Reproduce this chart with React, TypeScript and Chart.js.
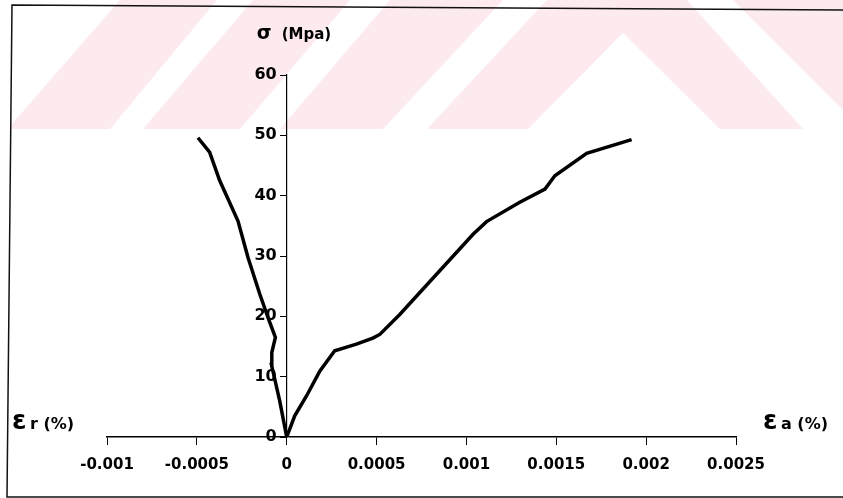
import React, { useEffect, useRef } from "react";
import { Chart, registerables } from "chart.js";

Chart.register(...registerables);

// Axial strain branch (εa, %) vs stress σ (MPa)
const axialStrain = [0, 0.0000445, 0.00011, 0.000184, 0.000267, 0.000388, 0.000479, 0.000518, 0.000629, 0.001037, 0.001112, 0.001297, 0.001437, 0.001492, 0.001669, 0.001919];
const axialStress = [0, 3.5, 6.8, 10.9, 14.3, 15.4, 16.4, 17.0, 20.3, 33.6, 35.7, 38.9, 41.1, 43.3, 47.0, 49.3];

// Radial strain branch (εr, %) vs stress σ (MPa)
const radialStrain = [0, -0.000039, -0.000085, -0.000083, -0.000063, -0.000104, -0.00015, -0.000215, -0.000271, -0.000373, -0.000429, -0.000494];
const radialStress = [0, 6.0, 12.0, 14.0, 16.5, 19.8, 23.7, 29.7, 35.8, 42.5, 47.2, 49.6];

const xTickValues = [-0.001, -0.0005, 0, 0.0005, 0.001, 0.0015, 0.002, 0.0025];
const xTickLabels = ["-0.001", "-0.0005", "0", "0.0005", "0.001", "0.0015", "0.002", "0.0025"];
const yTickValues = [0, 10, 20, 30, 40, 50, 60];
const yTickLabels = ["0", "10", "20", "30", "40", "50", "60"];

const yTitle = ["σ", "(Mpa)"];
const xLeftTitle = ["ε", "r (%)"];
const xRightTitle = ["ε", "a (%)"];

const PINK = "rgb(253,234,238)";
const FONT = '"DejaVu Sans", "Liberation Sans", Arial, sans-serif';
const Y_LABEL_GAP = 10;

// decorative scanned-page watermark (pink stripes) in the page header
const WATERMARK: number[][][] = [
  [[120, 0], [217, 0], [110, 129], [12, 129], [12, 124]],
  [[253, 0], [350, 0], [240, 129], [143, 129]],
  [[390, 0], [503, 0], [383, 129], [280, 129]],
  [[547, 0], [687, 0], [803, 129], [720, 129], [623, 33], [528, 129], [427, 129]],
  [[733, 0], [843, 0], [843, 110]],
];

const decor = {
  id: "decor",
  beforeDraw(chart: any) {
    const ctx = chart.ctx as CanvasRenderingContext2D;
    ctx.save();
    ctx.fillStyle = "#fff";
    ctx.fillRect(0, 0, chart.width, chart.height);
    ctx.fillStyle = PINK;
    for (const poly of WATERMARK) {
      ctx.beginPath();
      poly.forEach(([x, y], i) => (i ? ctx.lineTo(x, y) : ctx.moveTo(x, y)));
      ctx.closePath();
      ctx.fill();
    }
    ctx.strokeStyle = "#111";
    ctx.lineWidth = 1.5;
    ctx.beginPath();
    ctx.moveTo(843, 10);
    ctx.lineTo(12, 5);
    ctx.lineTo(7, 497);
    ctx.lineTo(843, 497);
    ctx.stroke();
    ctx.restore();

    // y axis sits at x = 0: move its tick labels left of the tick marks
    const ys = chart.scales.y;
    const items = ys.getLabelItems(chart.chartArea);
    if (!(items as any)._shifted) {
      items.forEach((it: any) => {
        it.options.translation[0] -= Y_LABEL_GAP;
      });
      (items as any)._shifted = true;
    }
  },
  afterDraw(chart: any) {
    const ctx = chart.ctx as CanvasRenderingContext2D;
    const xs = chart.scales.x;
    const area = chart.chartArea;
    const x0 = xs.getPixelForValue(0);
    ctx.save();
    ctx.fillStyle = "#000";
    ctx.textBaseline = "alphabetic";
    ctx.textAlign = "left";
    // σ (Mpa)
    ctx.font = `bold 19px ${FONT}`;
    ctx.fillText(yTitle[0], x0 - 30, area.top - 36);
    ctx.font = `bold 15px ${FONT}`;
    ctx.fillText(yTitle[1], x0 - 5, area.top - 36);
    // εr (%)
    const by = area.bottom - 8;
    ctx.font = `bold 26px ${FONT}`;
    ctx.fillText(xLeftTitle[0], 12, by);
    ctx.font = `bold 16px ${FONT}`;
    ctx.fillText(xLeftTitle[1], 30, by);
    // εa (%)
    ctx.font = `bold 26px ${FONT}`;
    ctx.fillText(xRightTitle[0], 763, by);
    ctx.font = `bold 16px ${FONT}`;
    ctx.fillText(xRightTitle[1], 781, by);
    ctx.restore();
  },
};

export default function App() {
  const ref = useRef<HTMLCanvasElement | null>(null);

  useEffect(() => {
    if (!ref.current) return;
    const chart = new Chart(ref.current, {
      type: "scatter",
      data: {
        datasets: [
          {
            label: "εa",
            data: axialStrain.map((x, i) => ({ x, y: axialStress[i] })),
            showLine: true,
            borderColor: "#000",
            backgroundColor: "#000",
            borderWidth: 3.5,
            pointRadius: 0,
            tension: 0,
          },
          {
            label: "εr",
            data: radialStrain.map((x, i) => ({ x, y: radialStress[i] })),
            showLine: true,
            borderColor: "#000",
            backgroundColor: "#000",
            borderWidth: 3.5,
            pointRadius: 0,
            tension: 0,
          },
        ],
      },
      options: {
        animation: false,
        responsive: false,
        layout: { padding: { left: 107, right: 107, top: 75, bottom: 13 } },
        plugins: { legend: { display: false }, tooltip: { enabled: false } },
        scales: {
          x: {
            type: "linear",
            position: "bottom",
            min: -0.001,
            max: 0.0025,
            afterBuildTicks: (s: any) => {
              s.ticks = xTickValues.map((v) => ({ value: v }));
            },
            ticks: {
              color: "#000",
              font: { family: FONT, weight: "bold", size: 15 },
              padding: 11,
              maxRotation: 0,
              autoSkip: false,
              callback: (_v: any, i: number) => xTickLabels[i],
            },
            grid: { drawOnChartArea: false, drawTicks: true, tickLength: 8, color: "#000", lineWidth: 1 },
            border: { display: true, color: "#000", width: 1.5 },
          },
          y: {
            type: "linear",
            position: { x: 0 } as any,
            min: 0,
            max: 60,
            afterBuildTicks: (s: any) => {
              s.ticks = yTickValues.map((v) => ({ value: v }));
            },
            ticks: {
              color: "#000",
              font: { family: FONT, weight: "bold", size: 16 },
              padding: 6,
              autoSkip: false,
              callback: (_v: any, i: number) => yTickLabels[i],
            },
            grid: { drawOnChartArea: false, drawTicks: true, tickLength: 6, color: "#000", lineWidth: 1 },
            border: { display: true, color: "#000", width: 1.2 },
          },
        },
      },
      plugins: [decor],
    });
    return () => chart.destroy();
  }, []);

  return (
    <div style={{ position: "fixed", left: 0, top: 0, width: 843, height: 498, background: "#fff" }}>
      <canvas ref={ref} width={843} height={498} style={{ display: "block" }} />
    </div>
  );
}
